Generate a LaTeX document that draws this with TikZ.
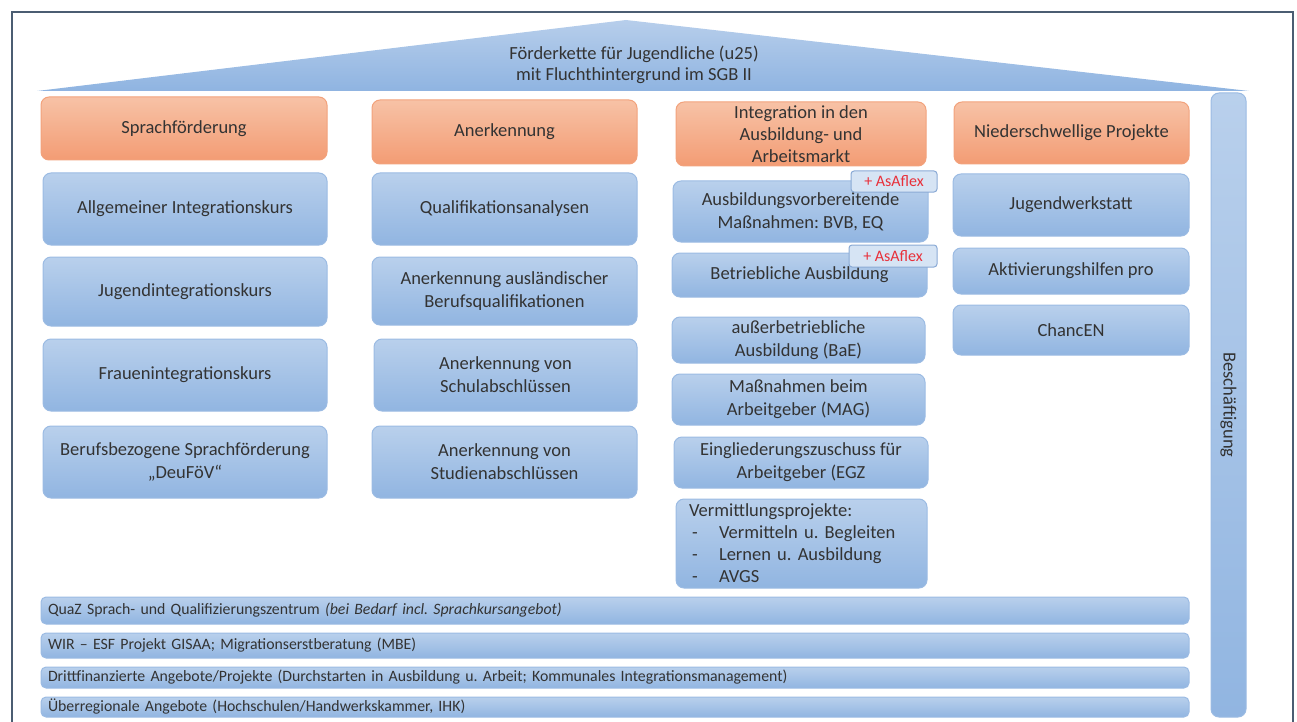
\documentclass[tikz,border=0pt]{standalone}
\usepackage{fontspec}
\setmainfont{Carlito}
\usepackage{tikz}
\frenchspacing
\definecolor{textgray}{HTML}{333333}
\definecolor{framecol}{HTML}{4B5D72}
\definecolor{headtop}{HTML}{F7C2A6}
\definecolor{headbot}{HTML}{F39C74}
\definecolor{headline}{HTML}{F2A27C}
\definecolor{itemtop}{HTML}{B9D0EC}
\definecolor{itembot}{HTML}{91B5E1}
\definecolor{itemline}{HTML}{9BBBE3}
\definecolor{rooftop}{HTML}{B7CEEB}
\definecolor{roofbot}{HTML}{8FB4E1}
\definecolor{tagfill}{HTML}{D6E4F4}
\definecolor{tagline}{HTML}{8AAAD5}
\definecolor{tagred}{HTML}{E8303A}

\begin{document}
\begin{tikzpicture}[x = 1pt, y = -1pt,
                    head/.style = {draw = headline, line width = 1pt, rounded corners = 8pt, top color = headtop, bottom color = headbot, text = textgray, align = center, inner sep = 0pt, font = \fontsize{18.5}{22}\selectfont},
                    item/.style = {draw = itemline, line width = 1pt, rounded corners = 8pt, top color = itemtop, bottom color = itembot, text = textgray, align = center, inner sep = 0pt, font = \fontsize{18.5}{23}\selectfont},
                    bar/.style = {item, rounded corners = 5pt, align = left, text width = 1134pt, inner xsep = 7pt, font = \fontsize{15.8}{18}\selectfont},
                    tag/.style = {draw = tagline, line width = 1pt, rounded corners = 3pt, fill = tagfill, text = tagred, inner sep = 0pt, font = \fontsize{16}{18}\selectfont}]
  \useasboundingbox (0,0) rectangle (1297,722);
  \draw [framecol, line width = 1.5pt] (12,722) -- (12,12) -- (1293,12) -- (1293,722);

  \shade [top color = rooftop, bottom color = roofbot] (626,20) -- (1249,91) -- (37,91) -- cycle;
  \node [text = textgray, align = center, font = \fontsize{18.5}{21}\selectfont] (title) at (634,64.5) {Förderkette für Jugendliche (u25)\\mit Fluchthintergrund im SGB II};

  \node [item, minimum width = 35pt, minimum height = 624pt] (S1) at (1228.5,405) {};
  \node [rotate = -90, text = textgray, font = \fontsize{18.5}{22}\selectfont] (S1label) at (S1) {Beschäftigung};

  \node [head, minimum width = 286pt, minimum height = 63pt] (H1) at (184,128.5) {Sprachförderung};
  \node [head, minimum width = 265pt, minimum height = 64pt] (H2) at (504.5,132) {Anerkennung};
  \node [head, minimum width = 250pt, minimum height = 64pt] (H3) at (801,134) {Integration in den\\Ausbildung- und\\Arbeitsmarkt};
  \node [head, minimum width = 235pt, minimum height = 62pt] (H4) at (1071.5,133) {Niederschwellige Projekte};

  \node [item, minimum width = 284pt, minimum height = 72pt] (A1) at (185,209) {Allgemeiner Integrationskurs};
  \node [item, minimum width = 284pt, minimum height = 69pt] (A2) at (185,291.5) {Jugendintegrationskurs};
  \node [item, minimum width = 284pt, minimum height = 72pt] (A3) at (185,375) {Frauenintegrationskurs};
  \node [item, minimum width = 284pt, minimum height = 72pt] (A4) at (185,462) {Berufsbezogene Sprachförderung\\„DeuFöV“};

  \node [item, minimum width = 265pt, minimum height = 72pt] (B1) at (504.5,209) {Qualifikationsanalysen};
  \node [item, minimum width = 265pt, minimum height = 68pt] (B2) at (504.5,291) {Anerkennung ausländischer\\Berufsqualifikationen};
  \node [item, minimum width = 263pt, minimum height = 72pt] (B3) at (505.5,375) {Anerkennung von\\Schulabschlüssen};
  \node [item, minimum width = 265pt, minimum height = 72pt] (B4) at (504.5,462) {Anerkennung von\\Studienabschlüssen};

  \node [item, minimum width = 255pt, minimum height = 61pt] (C1) at (800.5,211.5) {Ausbildungsvorbereitende\\Maßnahmen: BVB, EQ};
  \node [item, minimum width = 255pt, minimum height = 44pt] (C2) at (799.5,275) {Betriebliche Ausbildung};
  \node [item, minimum width = 253pt, minimum height = 46pt] (C3) at (798.5,340) {außerbetriebliche\\Ausbildung (BaE)};
  \node [item, minimum width = 253pt, minimum height = 51pt] (C4) at (798.5,399.5) {Maßnahmen beim\\Arbeitgeber (MAG)};
  \node [item, minimum width = 254pt, minimum height = 51pt] (C5) at (801,462.5) {Eingliederungszuschuss für\\Arbeitgeber (EGZ};
  \node [item, minimum width = 251pt, minimum height = 89pt, align = left, text width = 225pt, inner xsep = 13pt, font = \fontsize{18.5}{22}\selectfont] (C6) at (801.5,543.5) {Vermittlungsprojekte:\\\hspace*{3pt}\makebox[27pt][l]{-}Vermitteln u. Begleiten\\\hspace*{3pt}\makebox[27pt][l]{-}Lernen u. Ausbildung\\\hspace*{3pt}\makebox[27pt][l]{-}AVGS};
  \node [tag, minimum width = 86pt, minimum height = 21pt] (T1) at (894,181.5) {+ AsAflex};
  \node [tag, minimum width = 88pt, minimum height = 22pt] (T2) at (893,256) {+ AsAflex};

  \node [item, minimum width = 236pt, minimum height = 62pt] (D1) at (1071,205) {Jugendwerkstatt};
  \node [item, minimum width = 236pt, minimum height = 46pt] (D2) at (1071,271) {Aktivierungshilfen pro};
  \node [item, minimum width = 236pt, minimum height = 50pt] (D3) at (1071,330) {ChancEN};

  \node [bar, minimum height = 27pt] (E1) at (615,610.5) {QuaZ Sprach- und Qualifizierungszentrum \textit{(bei Bedarf incl. Sprachkursangebot)}};
  \node [bar, minimum height = 25pt] (E2) at (615,645.5) {WIR – ESF Projekt GISAA; Migrationserstberatung (MBE)};
  \node [bar, minimum height = 21pt] (E3) at (615,677.5) {Drittfinanzierte Angebote/Projekte (Durchstarten in Ausbildung u. Arbeit; Kommunales Integrationsmanagement)};
  \node [bar, minimum height = 20pt] (E4) at (615,707) {Überregionale Angebote (Hochschulen/Handwerkskammer, IHK)};
\end{tikzpicture}
\end{document}
